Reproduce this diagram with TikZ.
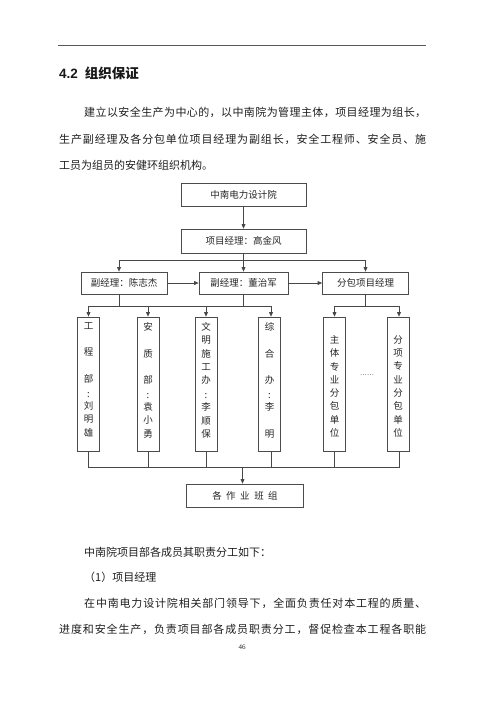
\documentclass[tikz,border=0pt]{standalone}
\usepackage{fontspec}
\setmainfont{Liberation Serif}
\newfontfamily\cjk{Noto Sans CJK SC}
\newfontfamily\hsans{Liberation Sans}
\usetikzlibrary{arrows.meta}
\makeatletter
\def\jsp@#1{\ifx#1\relax\else#1\hskip 0pt plus 1fil\relax\expandafter\jsp@\fi}
\newcommand\jline[2]{\makebox[#1][s]{\jsp@#2\relax\unskip}}
\makeatother
\begin{document}
\begin{tikzpicture}[x=1pt,y=-1pt,
  box/.style={draw=black!70, line width=0.7pt, inner sep=0pt, text=black!85,
    font=\cjk\fontsize{9.5}{11}\selectfont},
  colbox/.style={draw=black!70, line width=0.7pt, inner sep=0pt, minimum width=22pt, minimum height=134pt},
  vt/.style={anchor=north, inner sep=0pt, align=center, text=black!85,
    font=\cjk\fontsize{9.5}{13.3}\selectfont},
  ln/.style={draw=black!72, line width=0.7pt},
  arr/.style={draw=black!72, line width=0.7pt, -{Triangle[length=4.5pt,width=3.8pt]}},
  para/.style={anchor=base west, inner sep=0pt, text=black!88, font=\cjk\fontsize{11}{13}\selectfont}]
\useasboundingbox[fill=white] (0,0) rectangle (500,707);

% header rule and heading
\coordinate (r1) at (58,45);
\coordinate (r2) at (426,45);
\draw[black!65, line width=0.8pt] (r1) -- (r2);
\node[anchor=base west, inner sep=0pt, text=black!90] (head) at (59,78)
  {\hsans\bfseries\fontsize{13.5}{15}\selectfont 4.2\hspace{7pt}{\cjk\bfseries 组织保证}};

% paragraph
\node[para] (p1) at (84,116.2) {\jline{342pt}{建立以安全生产为中心的，以中南院为管理主体，项目经理为组长，}};
\node[para] (p2) at (59,143.2) {\jline{367pt}{生产副经理及各分包单位项目经理为副组长，安全工程师、安全员、施}};
\node[para] (p3) at (59,169.2) {工员为组员的安健环组织机构。};

% chart
\node[box, minimum width=125pt, minimum height=23pt] (top) at (243.5,194.5) {中南电力设计院};
\node[box, minimum width=125pt, minimum height=24pt] (pm) at (243.5,241) {项目经理：高金风};
\draw[arr] (top.south) -- (pm.north);

\node[box, minimum width=86pt, minimum height=22pt] (v1) at (124,283) {副经理：陈志杰};
\node[box, minimum width=89pt, minimum height=22pt] (v2) at (243.5,283) {副经理：董治军};
\node[box, minimum width=86pt, minimum height=22pt] (v3) at (365.5,283) {分包项目经理};

\coordinate (b1) at (243.5,260);
\draw[ln] (pm.south) -- (b1);
\draw[arr] (b1) -| ([xshift=-5pt]v1.north);
\draw[arr] (b1) -- (v2.north);
\draw[arr] (b1) -| (v3.north);
\draw[arr] (v1) -- (v2);
\draw[arr] (v2) -- (v3);

\node[colbox] (d1) at (88.5,384) {};
\node[colbox] (d2) at (148,384) {};
\node[colbox] (d3) at (206,384) {};
\node[colbox] (d4) at (269.5,384) {};
\node[colbox] (d5) at (334.5,384) {};
\node[colbox] (d6) at (398,384) {};

\node[vt] (t1) at (88.5,322.3) {工\\[13.2pt]程\\[13.2pt]部\\[1.7pt]:\\[-1.3pt]刘\\明\\雄};
\node[vt] (t2) at (148,322.3) {安\\[13.2pt]质\\[13.2pt]部\\[1.7pt]:\\[-1.3pt]袁\\小\\勇};
\node[vt] (t3) at (206,322.3) {文\\明\\施\\工\\办\\[1.7pt]:\\[-1.3pt]李\\顺\\保};
\node[vt] (t4) at (269.5,322.3) {综\\[13.2pt]合\\[13.2pt]办\\[1.7pt]:\\[-1.3pt]李\\[13.3pt]明};
\node[vt] (t5) at (334.5,335.3) {主\\体\\专\\业\\分\\包\\单\\位};
\node[vt] (t6) at (398,335.3) {分\\项\\专\\业\\分\\包\\单\\位};
\node[inner sep=0pt, text=black!80, font=\fontsize{7}{8}\selectfont] (dots) at (367,375)
  {.\hspace{0.6pt}.\hspace{0.6pt}.\hspace{0.6pt}.\hspace{0.6pt}.\hspace{0.6pt}.};

\coordinate (j1) at (119,306);
\draw[ln] ([xshift=-5pt]v1.south) -- (j1);
\draw[ln] (v2.south) -- (v2.south |- j1);
\draw[arr] (j1) -| (d1.north);
\draw[arr] (j1) -| (d2.north);
\draw[arr] (j1) -| (d3.north);
\draw[arr] (j1) -| ([xshift=1.5pt]d4.north);
\coordinate (j2) at (365.5,306);
\draw[ln] (v3.south) -- (j2);
\draw[arr] (j2) -| (d5.north);
\draw[arr] (j2) -| ([xshift=1pt]d6.north);

\node[box, minimum width=117pt, minimum height=23pt] (crew) at (245,495.5)
  {各\hspace{4.5pt}作\hspace{4.5pt}业\hspace{4.5pt}班\hspace{4.5pt}组};
\coordinate (j3) at (242.5,467);
\draw[ln] (d1.south) |- (j3);
\draw[ln] (d2.south) |- (j3);
\draw[ln] (d3.south) |- (j3);
\draw[ln] ([xshift=1.5pt]d4.south) |- (j3);
\draw[ln] (d5.south) |- (j3);
\draw[ln] ([xshift=1pt]d6.south) |- (j3);
\draw[arr] (j3) -- (crew.north -| j3);

% lower text
\node[para] (q1) at (84,556) {中南院项目部各成员其职责分工如下：};
\node[para] (q2) at (84,581) {（1）项目经理};
\node[para] (q3) at (84,607) {\jline{342pt}{在中南电力设计院相关部门领导下，全面负责任对本工程的质量、}};
\node[para] (q4) at (59,633) {\jline{367pt}{进度和安全生产，负责项目部各成员职责分工，督促检查本工程各职能}};
\node[inner sep=0pt, text=black!85, font=\fontsize{7}{8}\selectfont] (pg) at (242,647) {46};
\end{tikzpicture}
\end{document}
